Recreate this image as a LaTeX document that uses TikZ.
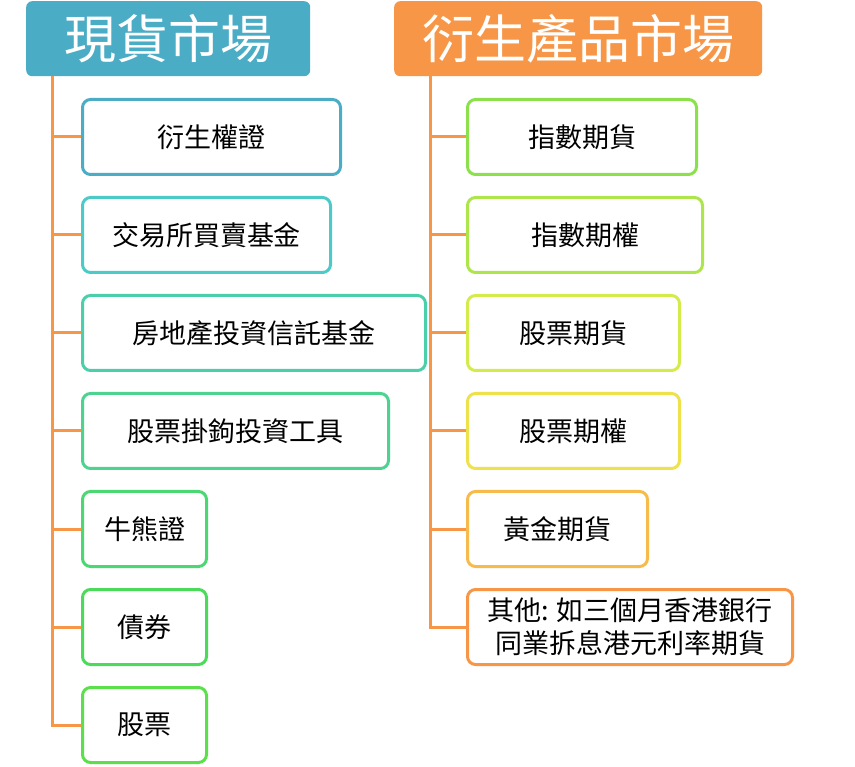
\documentclass[tikz,border=0pt]{standalone}
\usepackage{fontspec}
\setmainfont{Noto Sans CJK TC}
\usepackage{xcolor}
\usetikzlibrary{positioning,calc}

\definecolor{spotblue}{HTML}{4BACC6}
\definecolor{derivorange}{HTML}{F79646}
\definecolor{lcolA}{HTML}{4BACC6}
\definecolor{lcolB}{HTML}{4BCAC8}
\definecolor{lcolC}{HTML}{4BCFAA}
\definecolor{lcolD}{HTML}{4BD38F}
\definecolor{lcolE}{HTML}{4BD872}
\definecolor{lcolF}{HTML}{4BDA5A}
\definecolor{lcolG}{HTML}{5BE04B}
\definecolor{rcolA}{HTML}{8BE04B}
\definecolor{rcolB}{HTML}{AEE54B}
\definecolor{rcolC}{HTML}{D5EA4B}
\definecolor{rcolD}{HTML}{EDE24B}
\definecolor{rcolE}{HTML}{F7BB4B}
\definecolor{rcolF}{HTML}{F79646}

\begin{document}
\begin{tikzpicture}[x=1pt, y=1pt,
    head/.style={rounded corners=6pt, minimum height=75pt, inner sep=0pt, text=white,
      font=\fontsize{52}{60}\selectfont, anchor=north west},
    item/.style={draw, line width=3pt, rounded corners=8pt, fill=white, minimum height=75pt,
      inner sep=0pt, align=center, font=\fontsize{27}{33}\selectfont, anchor=north west},
    trunk/.style={draw=derivorange, line width=3pt},
  ]
  \useasboundingbox (0,0) rectangle (855,-767);

  \node[head, fill=spotblue, minimum width=284pt] (spot) at (26,-1) {現貨市場};
  \node[head, fill=derivorange, minimum width=368pt] (deriv) at (394,-1) {衍生產品市場};

  \coordinate (ltop) at ($(spot.south west)+(26,0)$);
  \coordinate (rtop) at ($(deriv.south west)+(36,0)$);

  % spot market items
  \node[item, draw=lcolA, minimum width=258pt] (l1) at (81,-98) {衍生權證};
  \node[item, draw=lcolB, minimum width=248pt, below=20pt of l1.south west, anchor=north west] (l2) {交易所買賣基金};
  \node[item, draw=lcolC, minimum width=343pt, below=20pt of l2.south west, anchor=north west] (l3) {房地產投資信託基金};
  \node[item, draw=lcolD, minimum width=306pt, below=20pt of l3.south west, anchor=north west] (l4) {股票掛鉤投資工具};
  \node[item, draw=lcolE, minimum width=124pt, below=20pt of l4.south west, anchor=north west] (l5) {牛熊證};
  \node[item, draw=lcolF, minimum width=124pt, below=20pt of l5.south west, anchor=north west] (l6) {債券};
  \node[item, draw=lcolG, minimum width=124pt, below=20pt of l6.south west, anchor=north west] (l7) {股票};

  % derivatives market items
  \node[item, draw=rcolA, minimum width=229pt] (r1) at (466,-98) {指數期貨};
  \node[item, draw=rcolB, minimum width=235pt, below=20pt of r1.south west, anchor=north west] (r2) {指數期權};
  \node[item, draw=rcolC, minimum width=212pt, below=20pt of r2.south west, anchor=north west] (r3) {股票期貨};
  \node[item, draw=rcolD, minimum width=212pt, below=20pt of r3.south west, anchor=north west] (r4) {股票期權};
  \node[item, draw=rcolE, minimum width=180pt, below=20pt of r4.south west, anchor=north west] (r5) {黃金期貨};
  \node[item, draw=rcolF, minimum width=325pt, below=20pt of r5.south west, anchor=north west] (r6) {其他: 如三個月香港銀行\\同業拆息港元利率期貨};

  \foreach \i in {1,...,7}
    \draw[trunk] (ltop) |- (l\i.west);
  \foreach \i in {1,...,6}
    \draw[trunk] (rtop) |- (r\i.west);
\end{tikzpicture}
\end{document}
